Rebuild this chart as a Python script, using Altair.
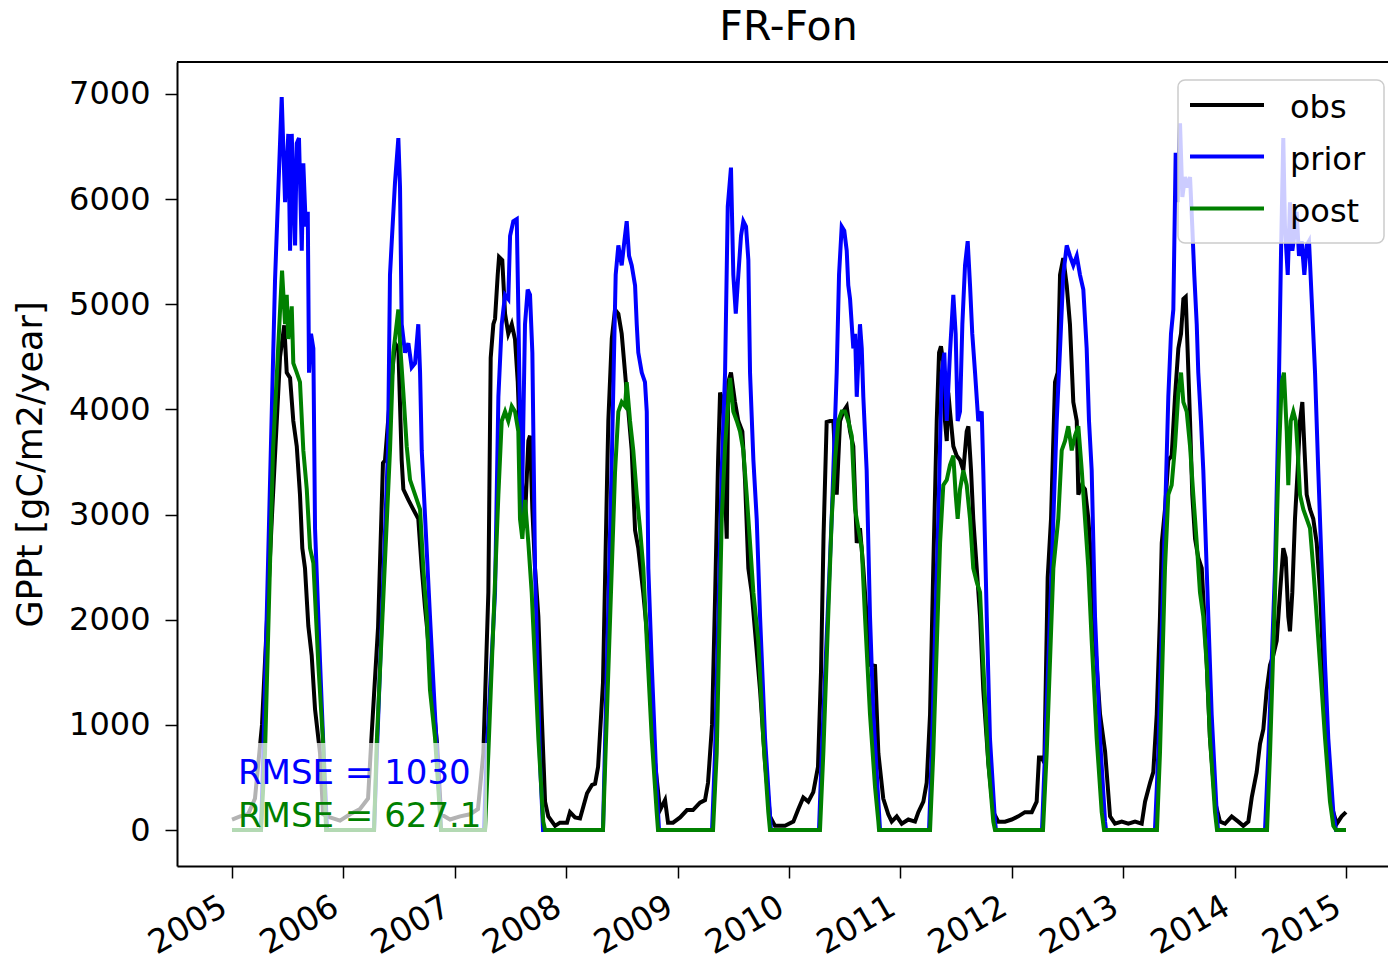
import altair as alt
import pandas as pd

# Site and series names
site = "FR-Fon"
series_names = ["obs", "prior", "post"]
series_colors = ["#000000", "#0000ff", "#008000"]
rmse_labels = ["RMSE = 1030", "RMSE = 627.1"]
year_ticks = list(range(2005, 2016))
gpp_ticks = list(range(0, 8000, 1000))

# Observed GPP (decimal year, gC/m2/year)
obs_t = [2005.000, 2005.072, 2005.144, 2005.206, 2005.269, 2005.359, 2005.431, 2005.469, 2005.491, 2005.521,
         2005.550, 2005.581, 2005.610, 2005.631, 2005.655, 2005.685, 2005.715, 2005.745, 2005.790, 2005.817,
         2005.880, 2005.969, 2006.059, 2006.149, 2006.221, 2006.254, 2006.311, 2006.355, 2006.373, 2006.418,
         2006.463, 2006.493, 2006.523, 2006.538, 2006.583, 2006.627, 2006.672, 2006.703, 2006.732, 2006.750,
         2006.804, 2006.840, 2006.876, 2006.957, 2007.047, 2007.136, 2007.208, 2007.256, 2007.301, 2007.322,
         2007.346, 2007.361, 2007.385, 2007.397, 2007.426, 2007.451, 2007.480, 2007.511, 2007.540, 2007.565,
         2007.594, 2007.630, 2007.660, 2007.675, 2007.696, 2007.720, 2007.750, 2007.780, 2007.810, 2007.839,
         2007.900, 2007.944, 2008.007, 2008.034, 2008.079, 2008.124, 2008.187, 2008.232, 2008.259, 2008.286,
         2008.330, 2008.366, 2008.378, 2008.409, 2008.438, 2008.468, 2008.498, 2008.528, 2008.558, 2008.588,
         2008.618, 2008.647, 2008.692, 2008.723, 2008.752, 2008.797, 2008.842, 2008.887, 2008.914, 2008.959,
         2009.022, 2009.084, 2009.138, 2009.201, 2009.246, 2009.273, 2009.309, 2009.336, 2009.363, 2009.381,
         2009.410, 2009.426, 2009.441, 2009.455, 2009.479, 2009.515, 2009.545, 2009.581, 2009.605, 2009.635,
         2009.665, 2009.695, 2009.740, 2009.785, 2009.829, 2009.874, 2009.964, 2010.039, 2010.084, 2010.128,
         2010.173, 2010.218, 2010.260, 2010.287, 2010.310, 2010.338, 2010.368, 2010.398, 2010.428, 2010.458,
         2010.487, 2010.518, 2010.548, 2010.577, 2010.608, 2010.637, 2010.667, 2010.697, 2010.727, 2010.772,
         2010.802, 2010.846, 2010.891, 2010.922, 2010.967, 2011.012, 2011.071, 2011.131, 2011.161, 2011.206,
         2011.236, 2011.266, 2011.295, 2011.326, 2011.347, 2011.364, 2011.385, 2011.400, 2011.416, 2011.430,
         2011.445, 2011.475, 2011.505, 2011.535, 2011.565, 2011.595, 2011.610, 2011.634, 2011.654, 2011.685,
         2011.715, 2011.744, 2011.789, 2011.834, 2011.879, 2011.939, 2011.999, 2012.058, 2012.118, 2012.179,
         2012.223, 2012.244, 2012.268, 2012.292, 2012.322, 2012.352, 2012.388, 2012.412, 2012.433, 2012.462,
         2012.493, 2012.522, 2012.552, 2012.583, 2012.597, 2012.628, 2012.657, 2012.687, 2012.717, 2012.747,
         2012.792, 2012.837, 2012.882, 2012.926, 2012.987, 2013.046, 2013.106, 2013.166, 2013.196, 2013.241,
         2013.270, 2013.301, 2013.330, 2013.346, 2013.375, 2013.405, 2013.435, 2013.465, 2013.495, 2013.519,
         2013.540, 2013.561, 2013.579, 2013.600, 2013.620, 2013.645, 2013.674, 2013.705, 2013.728, 2013.750,
         2013.779, 2013.824, 2013.869, 2013.914, 2013.974, 2014.033, 2014.078, 2014.123, 2014.154, 2014.198,
         2014.228, 2014.258, 2014.288, 2014.318, 2014.347, 2014.378, 2014.408, 2014.437, 2014.459, 2014.482,
         2014.497, 2014.518, 2014.542, 2014.566, 2014.587, 2014.608, 2014.626, 2014.647, 2014.677, 2014.706,
         2014.737, 2014.767, 2014.796, 2014.827, 2014.872, 2014.917, 2014.961, 2015.000]
obs_v = [100, 130, 150, 300, 1000, 3000, 4500, 4800, 4350, 4300,
         3890, 3650, 3190, 2680, 2490, 1940, 1660, 1150, 730, 150,
         120, 90, 150, 200, 300, 920, 1930, 3490, 3515, 4120,
         4630, 4580, 3515, 3240, 3140, 3050, 2960, 2490, 2120, 1930,
         1230, 830, 150, 100, 130, 150, 200, 730, 2260, 4490,
         4810, 4860, 5280, 5450, 5420, 4910, 4720, 4810, 4670, 4260,
         3420, 2960, 3700, 3750, 3050, 2490, 2030, 1100, 270, 130,
         40, 70, 70, 170, 120, 110, 350, 430, 440, 600,
         1400, 3300, 3890, 4670, 4950, 4910, 4720, 4350, 3980, 3610,
         2850, 2680, 2250, 1900, 1360, 640, 190, 285, 70, 70,
         120, 190, 190, 260, 285, 450, 1000, 2200, 3500, 4160,
         4070, 3190, 2770, 4260, 4350, 4070, 3890, 3790, 3330, 2490,
         2260, 1890, 1330, 640, 130, 40, 40, 80, 200, 310,
         270, 360, 600, 1500, 2800, 3880, 3890, 3890, 3190, 3890,
         3980, 4030, 3790, 3650, 2730, 2870, 2490, 2030, 1570, 1560,
         730, 300, 150, 80, 130, 60, 100, 80, 170, 270,
         450, 1100, 2490, 3890, 4540, 4600, 4440, 3890, 3700, 4160,
         3980, 3650, 3560, 3520, 3420, 3790, 3840, 3420, 2960, 2490,
         2030, 1330, 640, 170, 80, 80, 100, 130, 170, 170,
         270, 690, 690, 640, 2400, 2960, 4260, 4350, 5280, 5440,
         5180, 4810, 4070, 3890, 3190, 3280, 3240, 2960, 2490, 1800,
         1100, 750, 130, 60, 80, 60, 80, 60, 270, 450,
         550, 1100, 2030, 2730, 3050, 3520, 3560, 4120, 4580, 4720,
         5050, 5070, 4540, 3890, 3190, 2770, 2590, 2490, 2030, 1570,
         870, 270, 80, 60, 130, 80, 40, 80, 310, 550,
         820, 960, 1330, 1570, 1660, 1800, 2260, 2680, 2590, 2030,
         1890, 2260, 2960, 3420, 3890, 4070, 3650, 3190, 3050, 2960,
         2730, 2260, 1570, 870, 220, 60, 130, 170]

# Prior model GPP
prior_t = [2005.000, 2005.260, 2005.281, 2005.386, 2005.446, 2005.476, 2005.505, 2005.521, 2005.536, 2005.566,
           2005.581, 2005.601, 2005.626, 2005.640, 2005.662, 2005.680, 2005.691, 2005.709, 2005.730, 2005.745,
           2005.790, 2005.820, 2005.853, 2006.275, 2006.400, 2006.418, 2006.434, 2006.463, 2006.493, 2006.508,
           2006.523, 2006.553, 2006.583, 2006.613, 2006.643, 2006.672, 2006.688, 2006.703, 2006.732, 2006.777,
           2006.822, 2006.876, 2007.262, 2007.286, 2007.361, 2007.391, 2007.421, 2007.451, 2007.480, 2007.496,
           2007.525, 2007.556, 2007.570, 2007.585, 2007.601, 2007.615, 2007.630, 2007.654, 2007.675, 2007.696,
           2007.720, 2007.765, 2007.792, 2008.330, 2008.411, 2008.444, 2008.468, 2008.498, 2008.522, 2008.543,
           2008.564, 2008.588, 2008.618, 2008.633, 2008.647, 2008.678, 2008.707, 2008.723, 2008.737, 2008.768,
           2008.812, 2008.833, 2009.309, 2009.336, 2009.396, 2009.426, 2009.450, 2009.479, 2009.500, 2009.522,
           2009.545, 2009.569, 2009.590, 2009.614, 2009.635, 2009.650, 2009.680, 2009.710, 2009.740, 2009.785,
           2009.838, 2010.269, 2010.294, 2010.383, 2010.428, 2010.449, 2010.473, 2010.496, 2010.518, 2010.532,
           2010.548, 2010.577, 2010.593, 2010.608, 2010.637, 2010.653, 2010.667, 2010.697, 2010.727, 2010.757,
           2010.802, 2010.817, 2011.257, 2011.281, 2011.340, 2011.371, 2011.394, 2011.416, 2011.445, 2011.475,
           2011.496, 2011.514, 2011.535, 2011.556, 2011.580, 2011.604, 2011.625, 2011.645, 2011.670, 2011.699,
           2011.730, 2011.744, 2011.775, 2011.804, 2011.849, 2011.858, 2012.271, 2012.298, 2012.358, 2012.403,
           2012.433, 2012.462, 2012.493, 2012.522, 2012.552, 2012.583, 2012.612, 2012.642, 2012.672, 2012.693,
           2012.717, 2012.747, 2012.792, 2012.837, 2012.846, 2013.285, 2013.315, 2013.375, 2013.405, 2013.429,
           2013.450, 2013.471, 2013.489, 2013.510, 2013.531, 2013.555, 2013.579, 2013.600, 2013.620, 2013.638,
           2013.660, 2013.674, 2013.698, 2013.719, 2013.734, 2013.764, 2013.794, 2013.839, 2013.851, 2014.273,
           2014.303, 2014.363, 2014.392, 2014.417, 2014.437, 2014.452, 2014.477, 2014.497, 2014.518, 2014.536,
           2014.557, 2014.578, 2014.602, 2014.626, 2014.647, 2014.668, 2014.692, 2014.722, 2014.751, 2014.782,
           2014.812, 2014.841, 2014.886, 2014.910, 2015.000]
prior_v = [0, 0, 730, 5230, 6970, 5970, 6620, 5510, 6620, 5560,
           6530, 6580, 5510, 6340, 5740, 5880, 4350, 4720, 4580, 2870,
           1600, 800, 0, 0, 3610, 5280, 5600, 6160, 6580, 6110,
           4810, 4540, 4630, 4400, 4440, 4810, 4350, 3610, 3000, 2030,
           1100, 0, 0, 730, 2260, 4120, 4810, 5090, 5050, 5650,
           5790, 5810, 4950, 3890, 2960, 3890, 4810, 5140, 5090, 4540,
           2490, 640, 0, 0, 3610, 5280, 5560, 5370, 5600, 5790,
           5460, 5370, 5180, 4810, 4540, 4350, 4260, 3980, 2490, 1570,
           410, 0, 0, 730, 3420, 4350, 5930, 6300, 5280, 4910,
           5280, 5650, 5790, 5740, 5420, 4350, 3520, 2960, 2030, 870,
           0, 0, 730, 2960, 4350, 5280, 5740, 5700, 5510, 5180,
           5050, 4580, 4720, 4120, 4810, 4580, 4120, 3420, 2030, 1100,
           270, 0, 0, 730, 2960, 4350, 4540, 3890, 4540, 5090,
           4720, 3890, 3980, 4810, 5370, 5600, 5180, 4720, 4350, 3890,
           3980, 3420, 2030, 870, 80, 0, 0, 730, 2490, 3890,
           4580, 5280, 5560, 5460, 5370, 5460, 5280, 5140, 4580, 3890,
           3420, 2030, 870, 80, 0, 0, 730, 2960, 4120, 4720,
           4950, 6440, 5970, 6720, 6020, 6210, 6110, 6210, 5740, 5280,
           4810, 4350, 3890, 3420, 2960, 2030, 1100, 170, 0, 0,
           730, 2490, 3890, 5510, 6580, 5740, 5280, 5970, 5510, 5650,
           5880, 5460, 5600, 5280, 5560, 5600, 5050, 4350, 3420, 2490,
           1570, 870, 170, 0, 0]

# Posterior model GPP
post_t = [2005.000, 2005.260, 2005.296, 2005.368, 2005.449, 2005.476, 2005.491, 2005.505, 2005.536, 2005.550,
          2005.581, 2005.610, 2005.640, 2005.671, 2005.700, 2005.730, 2005.775, 2005.820, 2005.844, 2006.275,
          2006.299, 2006.418, 2006.448, 2006.493, 2006.508, 2006.538, 2006.568, 2006.598, 2006.643, 2006.688,
          2006.717, 2006.748, 2006.777, 2006.822, 2006.876, 2007.271, 2007.301, 2007.391, 2007.421, 2007.451,
          2007.480, 2007.511, 2007.540, 2007.570, 2007.585, 2007.606, 2007.630, 2007.660, 2007.690, 2007.720,
          2007.750, 2007.794, 2007.810, 2008.330, 2008.438, 2008.468, 2008.498, 2008.528, 2008.543, 2008.573,
          2008.602, 2008.633, 2008.662, 2008.692, 2008.723, 2008.768, 2008.812, 2008.824, 2009.318, 2009.351,
          2009.396, 2009.426, 2009.470, 2009.500, 2009.531, 2009.560, 2009.590, 2009.620, 2009.650, 2009.680,
          2009.724, 2009.769, 2009.814, 2009.829, 2010.278, 2010.308, 2010.383, 2010.413, 2010.443, 2010.473,
          2010.503, 2010.532, 2010.563, 2010.593, 2010.622, 2010.653, 2010.682, 2010.727, 2010.772, 2010.802,
          2010.808, 2011.266, 2011.295, 2011.356, 2011.385, 2011.416, 2011.445, 2011.475, 2011.496, 2011.514,
          2011.535, 2011.565, 2011.595, 2011.625, 2011.654, 2011.685, 2011.715, 2011.744, 2011.789, 2011.834,
          2011.849, 2012.280, 2012.313, 2012.373, 2012.417, 2012.448, 2012.478, 2012.507, 2012.538, 2012.567,
          2012.597, 2012.628, 2012.657, 2012.687, 2012.717, 2012.762, 2012.807, 2012.828, 2013.303, 2013.330,
          2013.375, 2013.405, 2013.435, 2013.465, 2013.495, 2013.519, 2013.540, 2013.570, 2013.600, 2013.629,
          2013.660, 2013.689, 2013.719, 2013.750, 2013.779, 2013.824, 2013.842, 2014.291, 2014.318, 2014.363,
          2014.392, 2014.423, 2014.443, 2014.468, 2014.482, 2014.504, 2014.527, 2014.549, 2014.566, 2014.587,
          2014.617, 2014.647, 2014.677, 2014.706, 2014.737, 2014.767, 2014.812, 2014.856, 2014.886, 2014.910,
          2015.000]
post_v = [0, 0, 730, 3610, 5320, 4810, 5090, 4670, 4980, 4440,
          4350, 4260, 3610, 3240, 2680, 2540, 1570, 780, 0, 0,
          830, 3610, 4540, 4950, 4630, 4160, 3650, 3330, 3190, 3050,
          2490, 2030, 1330, 880, 0, 0, 730, 3190, 3890, 3980,
          3890, 4030, 3980, 3790, 2960, 2770, 3140, 2730, 2260, 1570,
          870, 80, 0, 0, 3400, 3980, 4070, 4030, 4260, 3890,
          3610, 3190, 2870, 2490, 1800, 870, 170, 0, 0, 730,
          2960, 3650, 4300, 3980, 3890, 3790, 3610, 3190, 2730, 2260,
          1800, 870, 170, 0, 0, 730, 2960, 3520, 3890, 3980,
          3980, 3890, 3750, 3050, 2870, 2680, 2030, 1100, 410, 80,
          0, 0, 730, 2730, 3280, 3330, 3470, 3560, 3190, 2960,
          3240, 3420, 3280, 2960, 2490, 2360, 2260, 1570, 640, 80,
          0, 0, 730, 2490, 2960, 3610, 3700, 3840, 3610, 3750,
          3840, 3420, 2960, 2490, 1800, 870, 170, 0, 0, 730,
          2490, 3190, 3280, 3650, 4160, 4350, 4070, 3980, 3650, 3190,
          2730, 2260, 2030, 1570, 870, 170, 0, 0, 730, 2260,
          3420, 4260, 4350, 3790, 3280, 3890, 3980, 3890, 3610, 3190,
          3050, 2960, 2870, 2490, 2030, 1570, 870, 270, 40, 0,
          0]


def frame(name, t, v):
    return pd.DataFrame({"t": t, "v": v, "series": name})


FONT = "DejaVu Sans"
W, H = 1211, 804
LW = 4

x_enc = alt.X(
    "t:Q",
    scale=alt.Scale(domain=[2004.506, 2015.377], nice=False, zero=False),
    axis=alt.Axis(
        values=year_ticks, format="d", title=None, grid=False,
        labelAngle=330, labelAlign="right", labelBaseline="top",
        labelFontSize=33, labelFont=FONT, labelColor="#000000",
        labelPadding=12, labelOffset=-16,
        tickSize=12, tickWidth=1.5, tickColor="#000000",
        domainColor="#000000", domainWidth=2,
    ),
)
y_enc = alt.Y(
    "v:Q",
    scale=alt.Scale(domain=[-342, 7304], nice=False, zero=False),
    axis=alt.Axis(
        values=gpp_ticks, format="d", title="GPPt [gC/m2/year]", grid=False,
        labelFontSize=32, labelFont=FONT, labelColor="#000000", labelPadding=15,
        tickSize=12, tickWidth=1.5, tickColor="#000000",
        domainColor="#000000", domainWidth=2,
        titleFontSize=35, titleFont=FONT, titleFontWeight="normal", titleColor="#000000",
        titleX=-129,
    ),
)
color_enc = alt.Color(
    "series:N",
    scale=alt.Scale(domain=series_names, range=series_colors),
    legend=None,
)


def line_layer(df):
    return alt.Chart(df).mark_line(strokeWidth=LW, clip=True).encode(
        x=x_enc, y=y_enc, color=color_enc, order="t:Q"
    )


lines = [
    line_layer(frame("obs", obs_t, obs_v)),
    line_layer(frame("prior", prior_t, prior_v)),
    line_layer(frame("post", post_t, post_v)),
]

one_row = pd.DataFrame({"k": [0]})

# Translucent white box behind the RMSE annotations
box = alt.Chart(one_row).mark_rect(color="white", opacity=0.7).encode(
    x=alt.value(53), x2=alt.value(310), y=alt.value(681), y2=alt.value(770)
)

rmse_df = pd.DataFrame({"label": rmse_labels})
rmse_blue = alt.Chart(rmse_df.iloc[[0]]).mark_text(
    align="left", baseline="alphabetic", fontSize=34, font=FONT, color=series_colors[1]
).encode(x=alt.value(61), y=alt.value(722), text="label:N")
rmse_green = alt.Chart(rmse_df.iloc[[1]]).mark_text(
    align="left", baseline="alphabetic", fontSize=34, font=FONT, color=series_colors[2]
).encode(x=alt.value(61), y=alt.value(765), text="label:N")

# Top border of the axes frame
top_edge = alt.Chart(one_row).mark_rule(color="#000000", strokeWidth=2).encode(
    x=alt.value(0), x2=alt.value(W), y=alt.value(0)
)

# Legend panel in the upper right corner of the axes
legend_box = alt.Chart(one_row).mark_rect(
    fill="white", fillOpacity=0.8, stroke="#cccccc", strokeWidth=1.5, cornerRadius=7
).encode(x=alt.value(1001), x2=alt.value(1207), y=alt.value(18), y2=alt.value(181))

legend_layers = [legend_box]
row_y = [43, 94.5, 146.5]
for i, (name, col) in enumerate(zip(series_names, series_colors)):
    legend_layers.append(
        alt.Chart(one_row).mark_rule(color=col, strokeWidth=LW).encode(
            x=alt.value(1013), x2=alt.value(1087), y=alt.value(row_y[i])
        )
    )
    legend_layers.append(
        alt.Chart(pd.DataFrame({"label": [name]})).mark_text(
            align="left", baseline="alphabetic", fontSize=32, font=FONT, color="#000000"
        ).encode(x=alt.value(1113), y=alt.value(row_y[i] + 13), text="label:N")
    )

chart = alt.layer(*lines, box, rmse_blue, rmse_green, top_edge, *legend_layers).properties(
    width=W, height=H,
    title=alt.TitleParams(site, fontSize=41, font=FONT, fontWeight="normal", color="#000000",
                          anchor="middle", dx=6, offset=12),
    autosize=alt.AutoSizeParams(type="none"),
    padding={"left": 177, "top": 62, "right": 0, "bottom": 95},
).configure_view(stroke=None).configure(background="white")

chart.save("out.html", embed_options={"renderer": "svg", "actions": False})
